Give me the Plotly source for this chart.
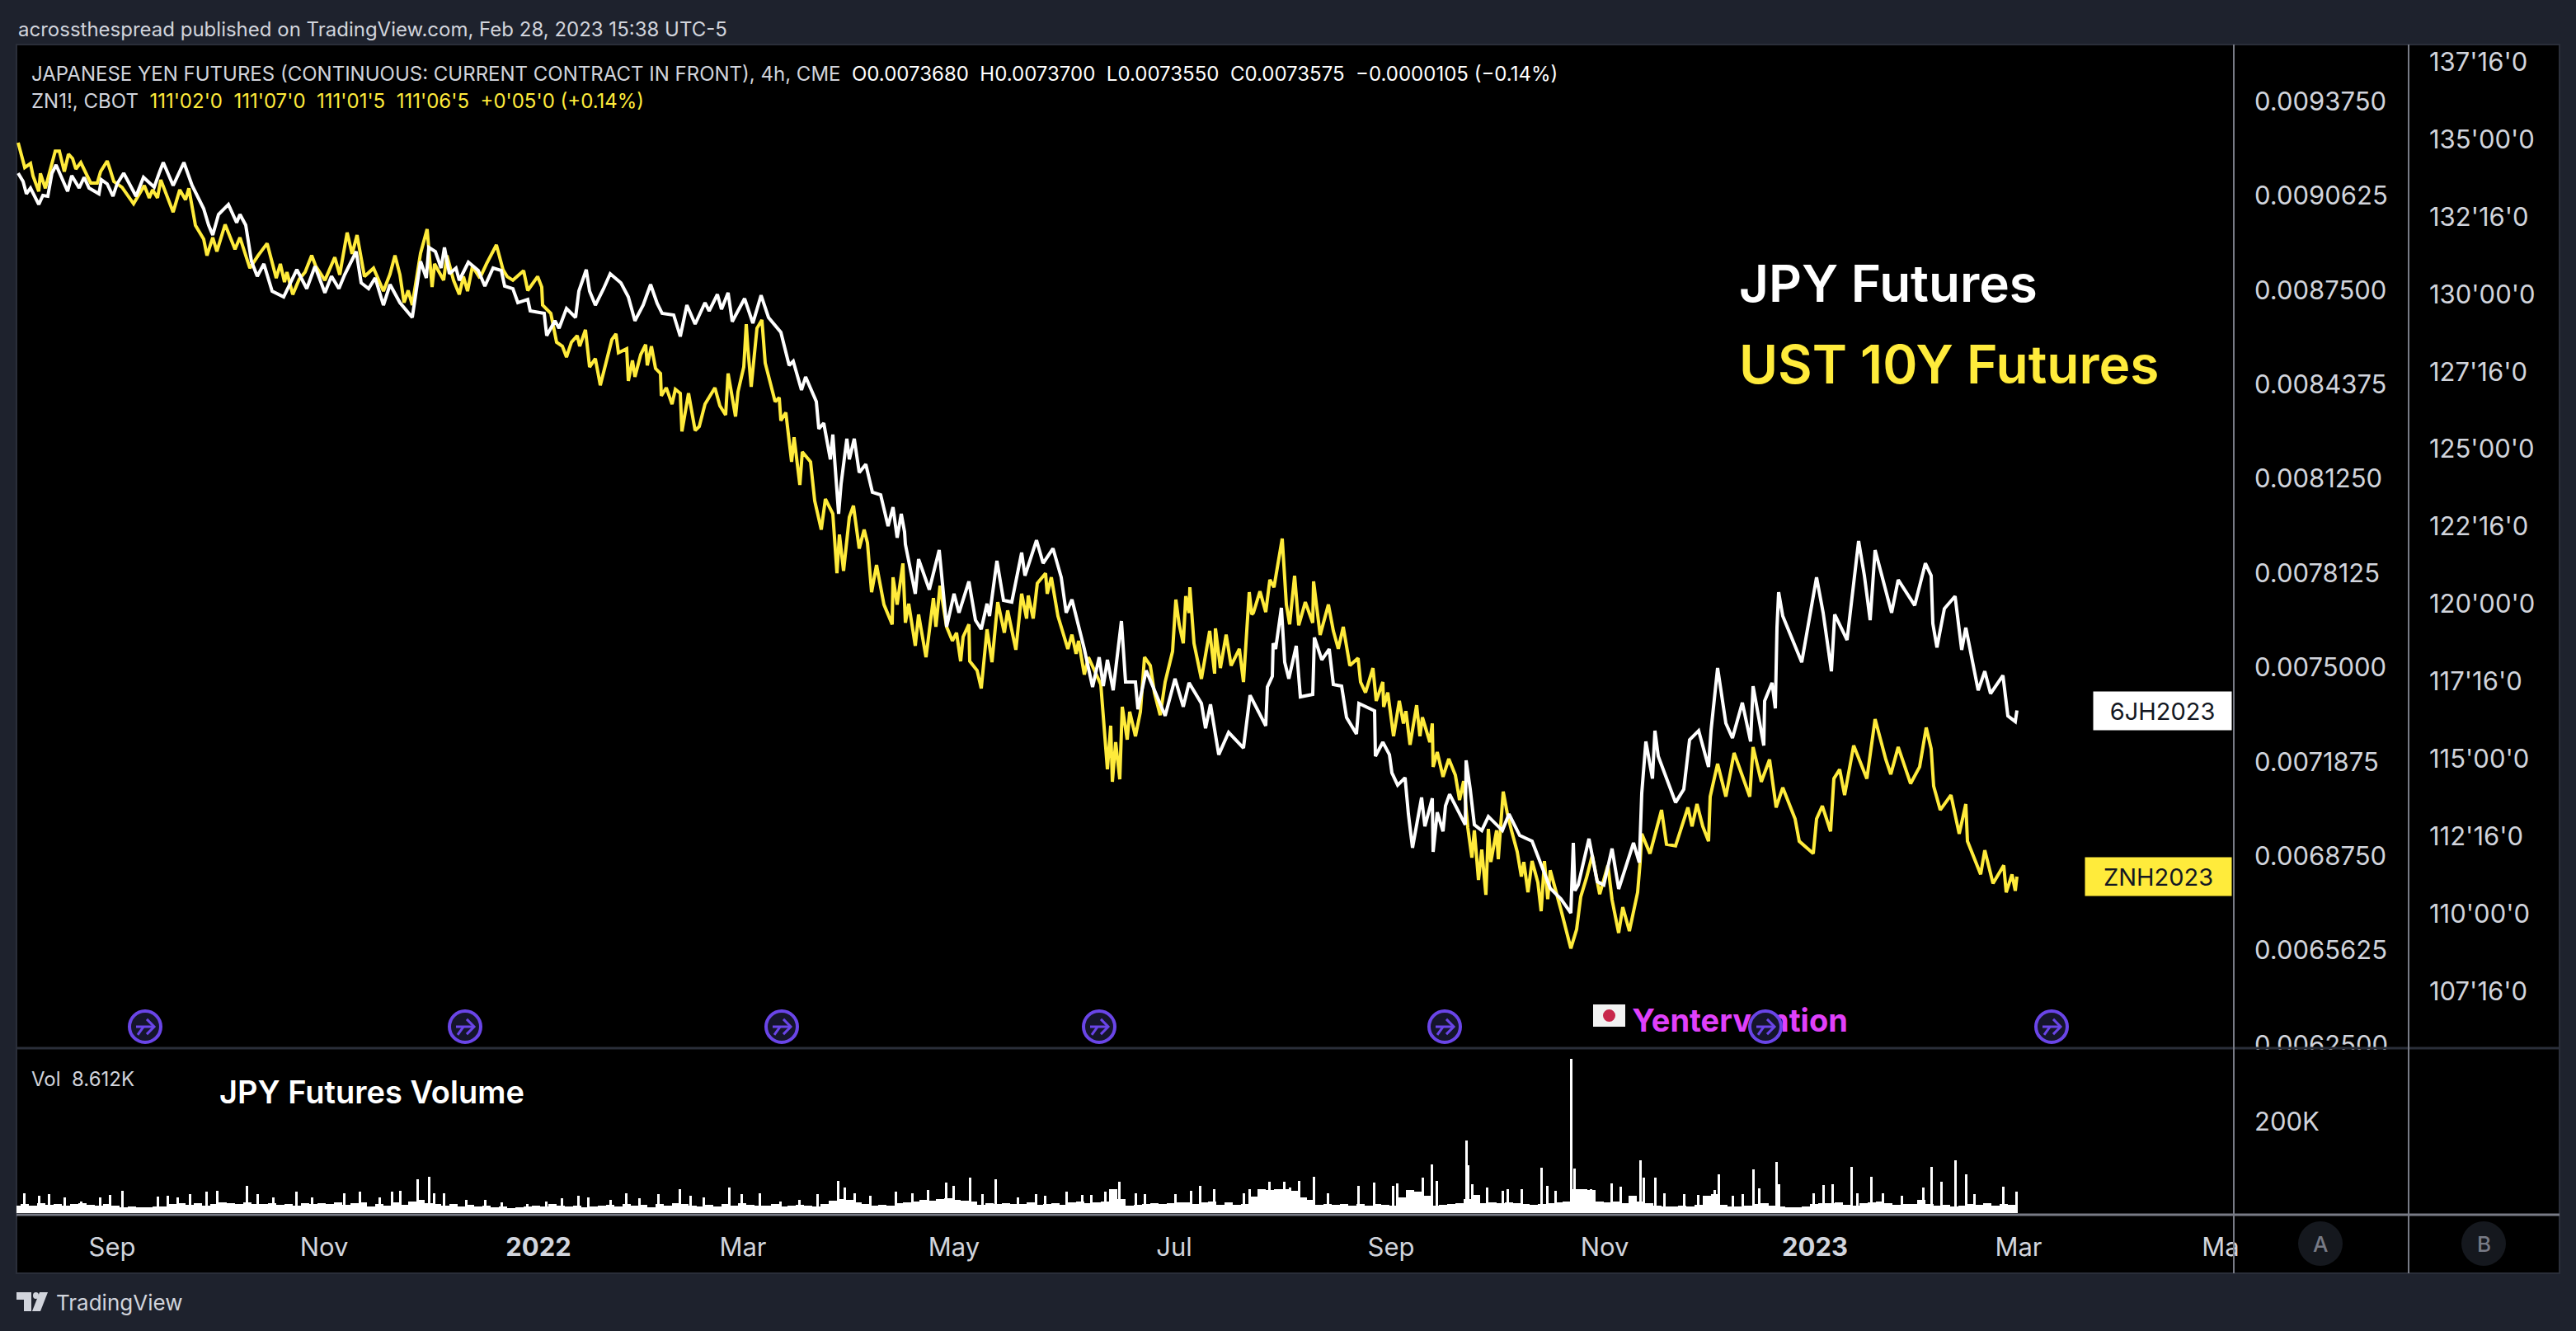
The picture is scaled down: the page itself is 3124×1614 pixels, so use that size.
import plotly.graph_objects as go

W, H = 3124, 1614

# ============================================
# DATA
# x is the running 4h bar number, one bar is about one pixel wide on this chart
# ============================================

month_bars = [116, 373, 633, 881, 1137, 1404, 1667, 1926, 2181, 2428, 2673]
month_labels = ["Sep", "Nov", "<b>2022</b>", "Mar", "May", "Jul", "Sep", "Nov", "<b>2023</b>", "Mar", "Ma"]

jpy_ticks = [0.0093750, 0.0090625, 0.0087500, 0.0084375, 0.0081250, 0.0078125, 0.0075000,
             0.0071875, 0.0068750, 0.0065625, 0.0062500]
jpy_labels = ["0.0093750", "0.0090625", "0.0087500", "0.0084375", "0.0081250", "0.0078125", "0.0075000",
              "0.0071875", "0.0068750", "0.0065625", "0.0062500"]

zn_ticks = [137.5, 135.0, 132.5, 130.0, 127.5, 125.0, 122.5, 120.0, 117.5, 115.0, 112.5, 110.0, 107.5]
zn_labels = ["137'16'0", "135'00'0", "132'16'0", "130'00'0", "127'16'0", "125'00'0", "122'16'0",
             "120'00'0", "117'16'0", "115'00'0", "112'16'0", "110'00'0", "107'16'0"]

# JPY futures, price x 1e7
jpy_bar = [
    2, 8, 12, 17, 27, 32, 38, 43, 48, 58,
    62, 67, 76, 82, 88, 100, 103, 110, 117, 122,
    130, 137, 145, 154, 167, 173, 178, 190, 198, 203,
    213, 227, 233, 238, 245, 257, 267, 271, 278, 285,
    292, 300, 310, 324, 340, 352, 362, 374, 382, 391,
    398, 412, 418, 427, 435, 445, 453, 465, 480, 490,
    497, 500, 508, 515, 519,
    525, 533, 537, 548, 560, 568, 578, 588, 592, 602,
    608, 620, 623, 640, 643, 653, 658, 667, 678, 682,
    691, 695, 702, 712, 720, 733, 742, 750, 760, 769,
    777, 783, 797, 805, 813, 823, 835, 840, 850, 855,
    863, 868, 883, 893, 903, 912, 927, 937, 942, 952,
    957, 970, 973, 979, 987, 990, 997, 1000, 1007, 1010,
    1016, 1022, 1030, 1038,
    1048, 1057, 1063, 1068, 1073, 1077, 1078, 1090, 1094, 1107,
    1119, 1128, 1137, 1143, 1155, 1163, 1170, 1177, 1180, 1189,
    1197, 1207, 1219, 1223, 1237, 1245, 1257, 1267, 1273, 1280,
    1288, 1295, 1305, 1313, 1318, 1323, 1330, 1340, 1345, 1357,
    1360, 1370, 1393, 1405, 1415, 1422, 1437, 1442, 1448, 1458,
    1470, 1488, 1496,
    1515, 1517, 1523, 1524, 1527, 1534, 1538, 1543, 1552, 1557,
    1572, 1574, 1583, 1592, 1597, 1607, 1613, 1625, 1628, 1647,
    1648, 1657, 1665, 1668, 1675, 1684, 1688, 1693, 1704, 1708,
    1717, 1718, 1723, 1730, 1733, 1738, 1757, 1758, 1763, 1768,
    1777, 1785, 1802, 1810, 1823, 1838, 1848, 1860, 1873, 1885,
    1888, 1890,
    1894, 1907, 1917, 1925, 1935, 1943, 1961, 1968, 1971, 1976,
    1984, 1987, 1991, 2001, 2012, 2022, 2029, 2040, 2052, 2055,
    2063, 2073, 2081, 2093, 2103, 2106, 2119, 2120, 2129, 2133,
    2135, 2137, 2142, 2165, 2183, 2191, 2201, 2205, 2220, 2234,
    2241, 2248, 2254, 2274, 2282, 2302, 2315, 2322, 2324, 2329,
    2338, 2351, 2359, 2364, 2379, 2387, 2394, 2409, 2415, 2424,
    2426,
]
jpy_price = [
    91374, 91101, 90691, 90882, 90336, 90636, 90609, 91374, 91647, 91019,
    90773, 91292, 90882, 91237, 90882, 90691, 91155, 91019, 90609, 91019,
    91374, 91019, 90609, 91237, 90909, 91374, 91729, 90964, 91456, 91729,
    90964, 90199, 89652, 89325, 90008, 90336, 89734, 90008, 89652, 88451,
    87960, 88369, 87467, 87276, 88178, 87549, 88287, 87413, 87960, 87549,
    88014, 88778, 87740, 87549, 87905, 87002, 87685, 87084, 86593, 88451,
    87905, 88915, 88778, 88232, 88915,
    88041, 88232, 87822, 88423, 88150, 87631, 88232, 88150, 87631, 87549,
    87084, 87194, 86811, 86729, 85992, 86484, 86238, 86893, 86593, 87467,
    88178, 87467, 87002, 87549, 88041, 87740, 87276, 86484, 87002, 87685,
    87057, 86729, 86675, 85965, 87002, 86374, 87084, 86811, 87358, 86866,
    87413, 86457, 87221, 86402, 87330, 86593, 86101, 85008, 85145, 84189,
    84626, 83806, 82905, 83096, 81894, 82714, 80091, 81074, 82578, 81894,
    82578, 81457, 81730, 80801,
    80719, 79681, 80309, 79298, 80091, 79490, 79080, 77441, 78588, 77578,
    78889, 76348, 77441, 76813, 77850, 76567, 76266, 77113, 76703, 78533,
    77222, 77167, 78807, 78042, 79216, 78451, 78943, 77987, 76813, 77250,
    76430, 75610, 74353, 75337, 74381, 75255, 74244, 76539, 74517, 74517,
    73616, 74900, 73397, 74627, 73698, 74490, 73807, 72987, 73780, 72113,
    72851, 72332, 74080,
    73069, 74353, 74708, 75801, 75610, 76976, 75173, 74627, 75719, 74025,
    74107, 75992, 75255, 75610, 74435, 74381, 73343, 72796, 73807, 73561,
    72059, 72523, 72113, 71512, 71103, 71349, 70146, 69026, 70692, 69736,
    70665, 68890, 70201, 69572, 70419, 70801, 69791, 71922, 70965, 69791,
    69600, 70064, 69600, 70146, 69436, 69245, 68508, 67688, 67333, 66867,
    69190, 67606,
    67797, 69327, 67907, 67797, 69000, 67661, 69190, 68535, 70829, 72550,
    71321, 72906, 72059, 71321, 70528, 70965, 72605, 72906, 71704, 72906,
    74982, 73152, 72660, 73834, 72550, 74381, 72414, 73889, 74490, 73643,
    76320, 77495, 76703, 75173, 77987, 76813, 74873, 76758, 75911, 79189,
    78042, 76567, 78889, 76813, 77905, 77058, 78451, 78042, 76457, 75665,
    76949, 77359, 75583, 76320, 74244, 74873, 74135, 74736, 73397, 73206,
    73575,
]

# UST 10Y futures, decimal price
zn_bar = [
    2, 10, 17, 20, 27, 29, 35, 42, 47, 52,
    58, 63, 68, 72, 78, 90, 98, 102, 110, 114,
    118, 128, 142, 155, 161, 165, 171, 175, 185, 190,
    198, 205, 209, 217, 227, 231, 238, 243, 253, 265,
    271, 283, 293, 304, 315, 320, 325, 328, 335, 343,
    350, 358, 363, 374, 386, 392, 401, 407, 413, 422,
    433, 445, 453, 459, 465, 470, 475, 480, 490, 498,
    504, 507, 518,
    522, 530, 537, 542, 547, 553, 562, 570, 582, 590,
    595, 602, 615, 620, 632, 637, 638, 648, 652, 655,
    662, 667, 673, 680, 683, 690, 695, 702, 708, 715,
    722, 727, 730, 740, 742, 747, 750, 757, 763, 765,
    770, 775, 781, 782, 788, 795, 799, 805, 807, 815,
    823, 828, 835, 847, 853, 860, 863, 872, 875, 882,
    885, 887, 891, 898, 904, 908, 915, 920, 925, 927,
    933, 940, 943, 950, 953, 963, 968, 976, 981, 990,
    995, 998, 1003, 1010, 1015, 1022, 1028, 1032, 1037,
    1043, 1052, 1062, 1063, 1068, 1075, 1078, 1082, 1090, 1094,
    1103, 1112, 1115, 1120, 1128, 1135, 1140, 1145, 1148, 1155,
    1156, 1165, 1170, 1177, 1183, 1190, 1198, 1202, 1212, 1219,
    1225, 1227, 1233, 1238, 1248, 1250, 1255, 1263, 1275, 1280,
    1285, 1288, 1295, 1300, 1315, 1323, 1327, 1329, 1333, 1338,
    1341, 1347, 1350, 1357, 1363, 1368, 1375, 1380, 1387, 1393,
    1402, 1406, 1410, 1415, 1418, 1422, 1423, 1428, 1437, 1447,
    1453, 1454, 1460, 1467, 1473, 1483, 1488, 1495, 1498,
    1500, 1508, 1515, 1520, 1525, 1535, 1540, 1544, 1550, 1555,
    1563, 1572, 1573, 1581, 1591, 1597, 1603, 1609, 1617, 1627,
    1630, 1636, 1645, 1649, 1657, 1658, 1663, 1670, 1677, 1682,
    1685, 1690, 1698, 1702, 1705, 1714, 1717, 1718, 1723, 1730,
    1737, 1745, 1750, 1755, 1760, 1765, 1768, 1773, 1777, 1782,
    1785, 1788, 1795, 1797, 1803, 1808, 1813, 1820, 1825, 1828,
    1833, 1838, 1845, 1849, 1853, 1857, 1860, 1867, 1873, 1885,
    1892, 1897, 1904, 1911, 1920, 1930, 1935, 1943, 1948, 1956,
    1966, 1969, 1971, 1981, 1995, 2001, 2012, 2027, 2032, 2038,
    2045, 2052, 2054, 2063, 2073, 2083, 2102, 2106, 2116, 2126,
    2134, 2142, 2157, 2162, 2179, 2183, 2190, 2200, 2204, 2211,
    2217, 2228, 2244, 2254, 2267, 2273, 2282, 2297, 2308, 2316,
    2322, 2325, 2333, 2346, 2356, 2364, 2366, 2382, 2387, 2397,
    2410, 2413, 2420, 2424, 2426,
]
zn_price = [
    134.89, 134.09, 134.22, 133.82, 133.32, 133.90, 133.42, 134.09, 134.62, 134.62,
    133.96, 134.52, 134.38, 134.04, 134.25, 133.59, 133.59, 133.96, 134.30, 133.98,
    133.64, 133.45, 132.92, 133.51, 133.11, 133.37, 133.11, 133.69, 133.03, 132.65,
    133.37, 133.05, 133.42, 132.22, 131.78, 131.25, 131.83, 131.38, 132.25, 131.45,
    131.83, 130.84, 131.25, 131.64, 130.52, 130.98, 130.39, 130.71, 129.99, 130.49,
    130.71, 131.25, 130.90, 130.45, 131.19, 130.63, 131.99, 131.30, 131.91, 130.57,
    130.84, 130.10, 130.65, 131.25, 130.63, 129.73, 130.12, 129.65, 131.32, 132.10,
    130.23, 130.98, 130.45,
    131.25, 130.45, 129.99, 130.57, 130.10, 130.90, 130.52, 130.98, 131.59, 130.79,
    130.57, 130.45, 130.76, 130.12, 130.57, 130.23, 129.65, 129.38, 128.85, 128.45,
    128.32, 127.97, 128.45, 128.66, 128.32, 128.85, 127.65, 127.92, 127.06, 127.78,
    128.53, 128.72, 128.11, 128.24, 127.20, 127.86, 127.33, 128.05, 128.37, 127.70,
    128.32, 127.60, 127.44, 126.72, 126.98, 126.45, 126.93, 126.80, 125.57, 126.80,
    125.60, 125.73, 126.45, 126.98, 126.40, 126.10, 127.44, 126.05, 126.85, 127.65,
    129.03, 128.24, 127.01, 128.90, 129.17, 127.78, 127.06, 126.53, 126.66, 125.92,
    126.18, 124.59, 125.38, 123.84, 124.91, 124.59, 123.33, 122.40, 123.39, 122.91,
    120.99, 122.24, 121.07, 122.80, 123.17, 121.79, 122.40, 121.97, 120.38,
    121.26, 119.98, 119.34, 120.86, 119.98, 121.31, 119.39, 120.01, 118.65, 119.66,
    118.28, 120.19, 119.26, 120.59, 119.26, 118.81, 119.07, 118.15, 118.94, 119.34,
    118.15, 117.85, 117.27, 119.18, 118.12, 120.06, 119.07, 119.79, 118.52, 120.33,
    119.53, 120.27, 119.53, 120.67, 120.99, 120.33, 120.86, 119.61, 118.55, 119.01,
    118.39, 118.81, 117.72, 118.28, 117.40, 114.66, 116.07, 114.26, 115.54, 114.34,
    116.68, 115.62, 116.52, 115.73, 116.52, 118.28, 118.01, 117.14, 116.41, 117.48,
    118.47, 120.14, 119.34, 118.73, 120.25, 119.71, 120.54, 118.73, 117.58, 119.13,
    117.75, 119.21, 117.93, 119.01, 118.01, 118.55, 117.48, 120.38, 119.66,
    119.71, 120.41, 119.74, 120.78, 120.54, 122.11, 119.98, 119.34, 120.91, 119.31,
    120.06, 119.39, 120.73, 119.00, 119.98, 119.13, 118.55, 119.26, 118.01, 118.25,
    117.48, 117.14, 117.93, 116.87, 117.48, 116.68, 117.14, 115.73, 116.87, 116.14,
    116.54, 115.45, 116.73, 115.73, 116.34, 115.54, 116.14, 114.74, 115.22, 114.42,
    115.00, 114.47, 113.67, 114.28, 112.79, 111.81, 112.69, 111.09, 112.07, 110.61,
    112.74, 111.67, 112.69, 111.76, 113.94, 113.23, 112.69, 112.00, 111.20, 111.67,
    110.69, 111.70, 111.01, 110.08, 111.70, 110.47, 111.40, 110.74, 110.13, 108.88,
    109.49, 110.55, 111.16, 111.88, 110.63, 111.56, 110.45, 109.38, 110.21, 109.44,
    110.69, 111.64, 112.58, 111.94, 113.35, 112.24, 112.19, 113.43, 112.82, 113.54,
    112.82, 112.34, 113.78, 114.84, 113.78, 115.19, 113.78, 115.38, 114.26, 114.98,
    113.43, 114.07, 113.06, 112.34, 111.94, 113.06, 113.48, 112.66, 114.36, 114.66,
    113.83, 115.43, 114.36, 116.28, 114.98, 114.50, 115.38, 114.20, 114.74, 116.01,
    115.32, 114.12, 113.35, 113.83, 112.58, 113.54, 112.34, 111.27, 112.05, 110.98,
    111.56, 110.69, 111.27, 110.74, 111.20,
]

assert len(jpy_bar) == len(jpy_price)
assert len(zn_bar) == len(zn_price)

# Volume in thousands: everyday level per 10 bars, then the tall single bars
vol_level = [
    17, 20, 16, 21, 18, 20, 16, 19, 21, 18,
    16, 20, 17, 13, 14, 12, 13, 15, 14, 20,
    21, 18, 22, 16, 20, 24, 22, 19, 23, 20,
    19, 22, 18, 20, 17, 21, 19, 22, 20, 23,
    18, 21, 23, 15, 20, 17, 24, 18, 26, 28,
    22, 20, 17, 19, 15, 18, 14, 16, 13, 14,
    11, 12, 14, 17, 15, 19, 16, 14, 17, 13,
    14, 16, 18, 15, 19, 17, 18, 13, 20, 16,
    21, 19, 17, 15, 18, 14, 20, 17, 21, 18,
    17, 16, 19, 15, 16, 18, 17, 14, 20, 27,
    30, 29, 24, 20, 17, 18, 16, 22, 24, 26,
    29, 27, 31, 33, 28, 27, 25, 18, 22, 20,
    21, 20, 19, 24, 18, 20, 22, 18, 24, 26,
    22, 24, 26, 52, 30, 16, 18, 20, 22, 20,
    22, 24, 23, 20, 24, 26, 18, 24, 18, 20,
    36, 52, 50, 53, 52, 48, 34, 28, 18, 20,
    18, 20, 17, 19, 16, 20, 18, 17, 35, 50,
    46, 38, 17, 18, 20, 22, 30, 40, 22, 24,
    22, 24, 22, 20, 18, 20, 22, 24, 26, 52,
    52, 50, 26, 24, 25, 22, 38, 26, 22, 16,
    14, 15, 17, 15, 18, 38, 42, 18, 15, 14,
    16, 20, 22, 16, 14, 12, 13, 15, 20, 22,
    22, 24, 18, 16, 22, 24, 26, 22, 18, 20,
    20, 28, 20, 16, 18, 14, 16, 20, 18, 22,
    16, 20, 18,
]
vol_level_bar = [i * 10 for i in range(len(vol_level))]

vol_spike_bar = [
    9, 27, 39, 58, 78, 101, 113, 128, 171, 183, 195, 210, 230, 243, 279, 292, 311, 339, 358, 397,
    416, 440, 455, 465, 486, 500, 506, 518, 545, 568, 588, 619, 642, 661, 681, 693, 720, 739, 755, 778,
    804, 817, 833, 864, 879, 901, 926, 949, 971, 996, 1004, 1016, 1035, 1066, 1086, 1105, 1127, 1136, 1156, 1171,
    1187, 1214, 1236, 1247, 1273, 1292, 1303, 1320, 1337, 1357, 1368, 1405, 1424, 1435, 1452, 1488, 1495, 1519, 1537, 1544,
    1555, 1573, 1590, 1627, 1646, 1669, 1674, 1705, 1716, 1722, 1758, 1760, 1765, 1783, 1802, 1808, 1825, 1849, 1856, 1866,
    1885, 1889, 1899, 1909, 1934, 1945, 1969, 1973, 1987, 1998, 2022, 2039, 2059, 2064, 2081, 2093, 2106, 2113, 2134, 2137,
    2179, 2191, 2202, 2225, 2232, 2249, 2263, 2286, 2312, 2322, 2334, 2351, 2364, 2374, 2409, 2425,
]
vol_spike = [
    44, 38, 41, 35, 26, 35, 39, 49, 36, 38, 35, 41, 47, 49, 59, 41, 35, 47, 35, 44,
    47, 35, 47, 49, 74, 79, 44, 44, 29, 29, 23, 20, 26, 32, 38, 35, 29, 44, 32, 41,
    53, 38, 35, 56, 41, 44, 26, 29, 41, 70, 56, 44, 38, 47, 44, 51, 67, 59, 77, 41,
    74, 35, 41, 38, 47, 39, 39, 47, 68, 43, 41, 41, 49, 59, 53, 44, 53, 68, 68, 55,
    71, 79, 43, 59, 67, 59, 64, 77, 106, 70, 158, 104, 63, 55, 49, 53, 53, 99, 59, 49,
    337, 98, 53, 53, 65, 57, 115, 77, 77, 43, 41, 39, 50, 84, 37, 41, 95, 54, 111, 63,
    44, 61, 63, 101, 44, 79, 44, 38, 56, 101, 68, 115, 85, 41, 58, 47,
]
assert len(vol_spike_bar) == len(vol_spike)

# published idea markers along the bottom of the price pane
idea_bars = [156, 544, 928, 1313, 1732, 2121, 2468]
idea_price = [0.0063100] * len(idea_bars)

last_jpy = 0.0073575
last_zn = 111.203

BG = "#1e222d"
TEXT = "#d1d4dc"
YELLOW = "#ffeb3b"
FONT = "Inter"


def fx(px):
    return px / W


def fy(px):
    return 1 - px / H


fig = go.Figure()

# yellow first and on the base axis, the overlaying JPY axis then draws on top
fig.add_trace(go.Scatter(x=zn_bar, y=zn_price, mode="lines", xaxis="x", yaxis="y",
                         line=dict(color=YELLOW, width=4), name="ZN1!"))
fig.add_trace(go.Scatter(x=jpy_bar, y=[p / 1e7 for p in jpy_price], mode="lines", xaxis="x", yaxis="y2",
                         line=dict(color="#ffffff", width=4), name="6J1!"))

# the note sits under the idea marker, so it is a text trace and not an annotation
fig.add_trace(go.Scatter(x=[2090], y=[0.00632], mode="text", xaxis="x", yaxis="y2",
                         text=["<b>Yentervention</b>"],
                         textfont=dict(family=FONT, size=38, color="#e040fb")))
fig.add_trace(go.Scatter(x=idea_bars, y=idea_price, mode="markers", xaxis="x", yaxis="y2",
                         marker=dict(symbol="circle", size=38, color="#15152b",
                                     line=dict(color="#6a45e8", width=4))))

# arrow inside each idea marker: shaft and head pointing right, short tail from below
glyph_x = []
glyph_y = []
for b, p in zip(idea_bars, idea_price):
    glyph_x += [b - 11, b + 11, None, b + 2, b + 11, b + 2, None, b - 9, b - 2, None]
    glyph_y += [p, p, None, p + 0.000025, p, p - 0.000025, None, p - 0.000027, p, None]
fig.add_trace(go.Scatter(x=glyph_x, y=glyph_y, mode="lines", xaxis="x", yaxis="y2",
                         line=dict(color="#6a45e8", width=3)))

# volume
fig.add_trace(go.Bar(x=vol_level_bar, y=vol_level, width=10, xaxis="x2", yaxis="y3",
                     marker=dict(color="#ffffff", line=dict(width=0))))
fig.add_trace(go.Bar(x=vol_spike_bar, y=vol_spike, width=3, xaxis="x2", yaxis="y3",
                     marker=dict(color="#ffffff", line=dict(width=0))))

shapes = [
    # chart frame
    dict(type="rect", xref="paper", yref="paper", x0=fx(20), x1=fx(3104), y0=fy(54), y1=fy(1544),
         fillcolor="#000000", line=dict(color="#2a2e39", width=2), layer="below"),
    # pane and axis separators
    dict(type="line", xref="paper", yref="paper", x0=fx(20), x1=fx(3104), y0=fy(1271), y1=fy(1271),
         line=dict(color="#2a2e39", width=3), layer="above"),
    dict(type="line", xref="paper", yref="paper", x0=fx(20), x1=fx(3104), y0=fy(1473), y1=fy(1473),
         line=dict(color="#787b86", width=3), layer="above"),
    dict(type="line", xref="paper", yref="paper", x0=fx(2709), x1=fx(2709), y0=fy(54), y1=fy(1544),
         line=dict(color="#787b86", width=2), layer="above"),
    dict(type="line", xref="paper", yref="paper", x0=fx(2921), x1=fx(2921), y0=fy(54), y1=fy(1544),
         line=dict(color="#787b86", width=2), layer="above"),
    # clips the lowest price label the way the pane edge does
    dict(type="rect", xref="paper", yref="paper", x0=fx(2711), x1=fx(2919), y0=fy(1273), y1=fy(1296),
         fillcolor="#000000", line=dict(width=0), layer="above"),
    # A and B scale buttons
    dict(type="circle", xref="paper", yref="paper", x0=fx(2787), x1=fx(2841), y0=fy(1481), y1=fy(1535),
         fillcolor="#15181e", line=dict(width=0), layer="above"),
    dict(type="circle", xref="paper", yref="paper", x0=fx(2985), x1=fx(3039), y0=fy(1481), y1=fy(1535),
         fillcolor="#15181e", line=dict(width=0), layer="above"),
    # little Japanese flag
    dict(type="rect", xref="paper", yref="paper", x0=fx(1932), x1=fx(1971), y0=fy(1218), y1=fy(1245),
         fillcolor="#f2f2f2", line=dict(width=0), layer="above"),
    dict(type="circle", xref="paper", yref="paper", x0=fx(1944), x1=fx(1959), y0=fy(1224), y1=fy(1239),
         fillcolor="#c8274b", line=dict(width=0), layer="above"),
    # TradingView logo
    dict(type="path", xref="paper", yref="paper", layer="above", fillcolor=TEXT, line=dict(width=0),
         path=f"M{fx(20)},{fy(1567)} L{fx(38)},{fy(1567)} L{fx(38)},{fy(1590)} L{fx(29)},{fy(1590)} "
              f"L{fx(29)},{fy(1576)} L{fx(20)},{fy(1576)} Z"),
    dict(type="circle", xref="paper", yref="paper", x0=fx(40), x1=fx(47), y0=fy(1567), y1=fy(1575),
         fillcolor=TEXT, line=dict(width=0), layer="above"),
    dict(type="path", xref="paper", yref="paper", layer="above", fillcolor=TEXT, line=dict(width=0),
         path=f"M{fx(48)},{fy(1567)} L{fx(58)},{fy(1567)} L{fx(49)},{fy(1590)} L{fx(39)},{fy(1590)} Z"),
]


def note(text, x, y, size, color=TEXT, weight=None, anchor="left"):
    f = dict(family=FONT, size=size, color=color)
    if weight:
        f["weight"] = weight
    return dict(text=text, xref="paper", yref="paper", x=fx(x), y=fy(y), xanchor=anchor, yanchor="middle",
                showarrow=False, font=f)


def span(text, color):
    return f'<span style="color:{color}">{text}</span>'


legend_1 = ("JAPANESE YEN FUTURES (CONTINUOUS: CURRENT CONTRACT IN FRONT), 4h, CME  "
            + span("O0.0073680  H0.0073700  L0.0073550  C0.0073575  −0.0000105 (−0.14%)", "#ffffff"))
legend_2 = "ZN1!, CBOT  " + span("111'02'0  111'07'0  111'01'5  111'06'5  +0'05'0 (+0.14%)", YELLOW)

annotations = [
    note("acrossthespread published on TradingView.com, Feb 28, 2023 15:38 UTC-5", 20, 35, 24),
    note(legend_1, 36, 90, 24),
    note(legend_2, 36, 123, 24),
    note("JPY Futures", 2107, 344, 62, "#ffffff", 600),
    note("UST 10Y Futures", 2107, 441, 64, YELLOW, 600),
    note("JPY Futures Volume", 264, 1324, 38, "#ffffff", 600),
    note("Vol  8.612K", 36, 1308, 24),
    note("A", 2814, 1508, 26, "#787b86", 500, "center"),
    note("B", 3012, 1508, 26, "#787b86", 500, "center"),
    note("TradingView", 66, 1579, 26),
    # last price tags
    dict(text="6JH2023", xref="paper", yref="y2", x=fx(2622), y=last_jpy, xanchor="center", showarrow=False,
         width=165, height=44, bgcolor="#ffffff", font=dict(family=FONT, size=29, color="#131722")),
    dict(text="ZNH2023", xref="paper", yref="y", x=fx(2617), y=last_zn, xanchor="center", showarrow=False,
         width=175, height=44, bgcolor=YELLOW, font=dict(family=FONT, size=29, color="#131722")),
]

axis_font = dict(family=FONT, size=31, color=TEXT)

fig.update_layout(
    width=W, height=H,
    margin=dict(l=0, r=0, t=0, b=0),
    paper_bgcolor=BG, plot_bgcolor="rgba(0,0,0,0)",
    showlegend=False,
    barmode="overlay",
    bargap=0,
    hovermode=False,
    shapes=shapes,
    annotations=annotations,
    xaxis=dict(domain=[fx(20), fx(2709)], range=[0, 2689], anchor="y", automargin=False,
               showgrid=False, zeroline=False, showticklabels=False, ticks=""),
    xaxis2=dict(domain=[fx(20), fx(2709)], range=[0, 2689], anchor="y3", automargin=False,
                showgrid=False, zeroline=False, ticks="", showline=False,
                tickmode="array", tickvals=month_bars, ticktext=month_labels,
                tickfont=axis_font, ticklabelstandoff=18),
    # base axis: UST 10Y, outer scale
    yaxis=dict(domain=[fy(1271), fy(54)], range=[105.66, 138.06], anchor="free", position=fx(2921), side="right",
               automargin=False, showgrid=False, zeroline=False, ticks="",
               tickmode="array", tickvals=zn_ticks, ticktext=zn_labels,
               tickfont=axis_font, ticklabelstandoff=24),
    # overlaying axis: JPY, inner scale
    yaxis2=dict(domain=[fy(1271), fy(54)], range=[0.006239, 0.0095635], overlaying="y", anchor="x", side="right",
                automargin=False, showgrid=False, zeroline=False, ticks="",
                tickmode="array", tickvals=jpy_ticks, ticktext=jpy_labels,
                tickfont=axis_font, ticklabelstandoff=24),
    yaxis3=dict(domain=[fy(1473), fy(1271)], range=[-3.6, 360], anchor="x2", side="right",
                automargin=False, showgrid=False, zeroline=False, ticks="",
                tickmode="array", tickvals=[200], ticktext=["200K"],
                tickfont=axis_font, ticklabelstandoff=24),
)

fig.write_html(
    "out.html",
    config={"displayModeBar": False},
    post_script="document.body.style.margin='0';document.body.style.overflow='hidden';"
                "document.documentElement.style.overflow='hidden';",
)
